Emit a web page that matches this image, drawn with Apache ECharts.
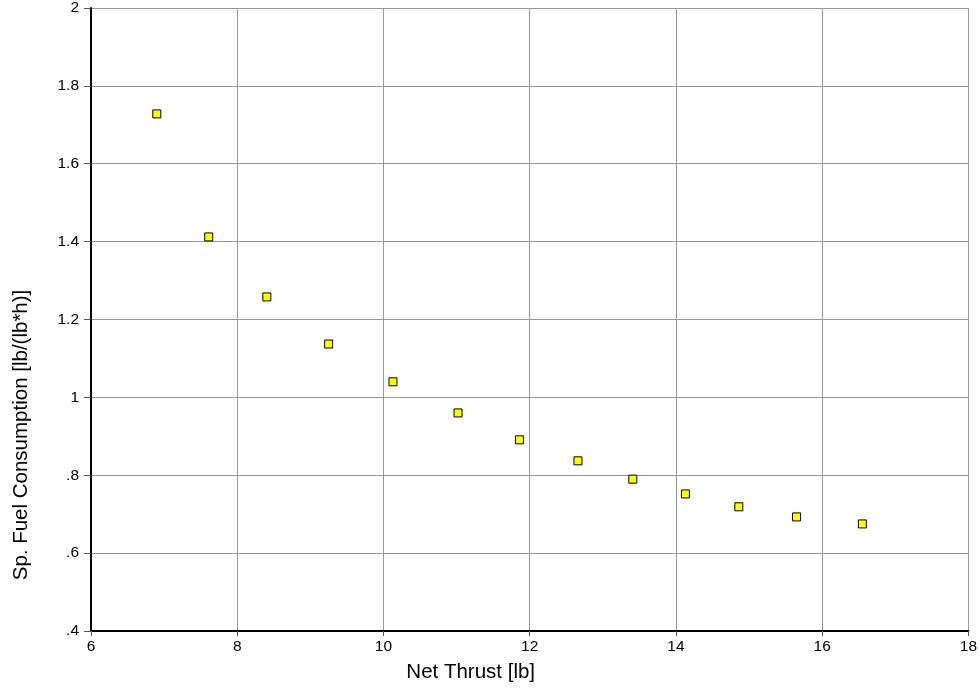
<!DOCTYPE html>
<html>
<head>
<meta charset="utf-8">
<script src="https://cdn.jsdelivr.net/npm/echarts@6/dist/echarts.min.js"></script>
<style>html,body{margin:0;padding:0;background:#fff}#c{width:980px;height:692px}</style>
</head>
<body>
<div id="c"></div>
<script>
const thrust = [6.90, 7.61, 8.405, 9.25, 10.13, 11.02, 11.86, 12.66, 13.41, 14.13, 14.86, 15.65, 16.55];
const sfc = [1.728, 1.412, 1.258, 1.137, 1.040, 0.960, 0.891, 0.837, 0.790, 0.752, 0.719, 0.693, 0.675];
const xTicks = [6, 8, 10, 12, 14, 16, 18];
const yTickLabels = {'2':'2','1.8':'1.8','1.6':'1.6','1.4':'1.4','1.2':'1.2','1':'1','0.8':'.8','0.6':'.6','0.4':'.4'};

const chart = echarts.init(document.getElementById('c'), null, {renderer:'canvas'});
const font = 'Liberation Sans, Arial, sans-serif';
chart.setOption({
  animation: false,
  grid: {left: 91, right: 11, top: 8, bottom: 61, containLabel: false},
  xAxis: {
    type: 'value', min: xTicks[0], max: xTicks[xTicks.length-1], interval: 2,
    name: 'Net Thrust [lb]', nameLocation: 'middle', nameGap: 31,
    nameTextStyle: {fontFamily: font, fontSize: 20.5, color: '#000', padding: [0, 118, 0, 0]},
    axisLine: {show: true, onZero: false, lineStyle: {color: '#000', width: 2}},
    axisTick: {show: true, length: 5, lineStyle: {color: '#555'}},
    axisLabel: {fontFamily: font, fontSize: 15.5, color: '#000', margin: 8},
    splitLine: {show: true, lineStyle: {color: '#999', width: 1}}
  },
  yAxis: {
    type: 'value', min: 0.4, max: 2, interval: 0.2,
    name: 'Sp. Fuel Consumption [lb/(lb*h)]', nameLocation: 'middle', nameGap: 59,
    nameTextStyle: {fontFamily: font, fontSize: 20.5, color: '#000', padding: [0, 231, 0, 0]},
    axisLine: {show: true, onZero: false, lineStyle: {color: '#000', width: 2}},
    axisTick: {show: true, length: 7, lineStyle: {color: '#555'}},
    axisLabel: {fontFamily: font, fontSize: 15.5, color: '#000', margin: 12,
      formatter: v => { const k = String(Math.round(v*10)/10); return yTickLabels[k] !== undefined ? yTickLabels[k] : k; }},
    splitLine: {show: true, lineStyle: {color: '#999', width: 1}}
  },
  series: [{
    type: 'scatter',
    data: thrust.map((t, i) => [t, sfc[i]]),
    symbol: 'rect', symbolSize: 8,
    itemStyle: {color: '#ffff00', borderColor: '#000', borderWidth: 1, opacity: 1}
  }]
});
</script>
</body>
</html>
